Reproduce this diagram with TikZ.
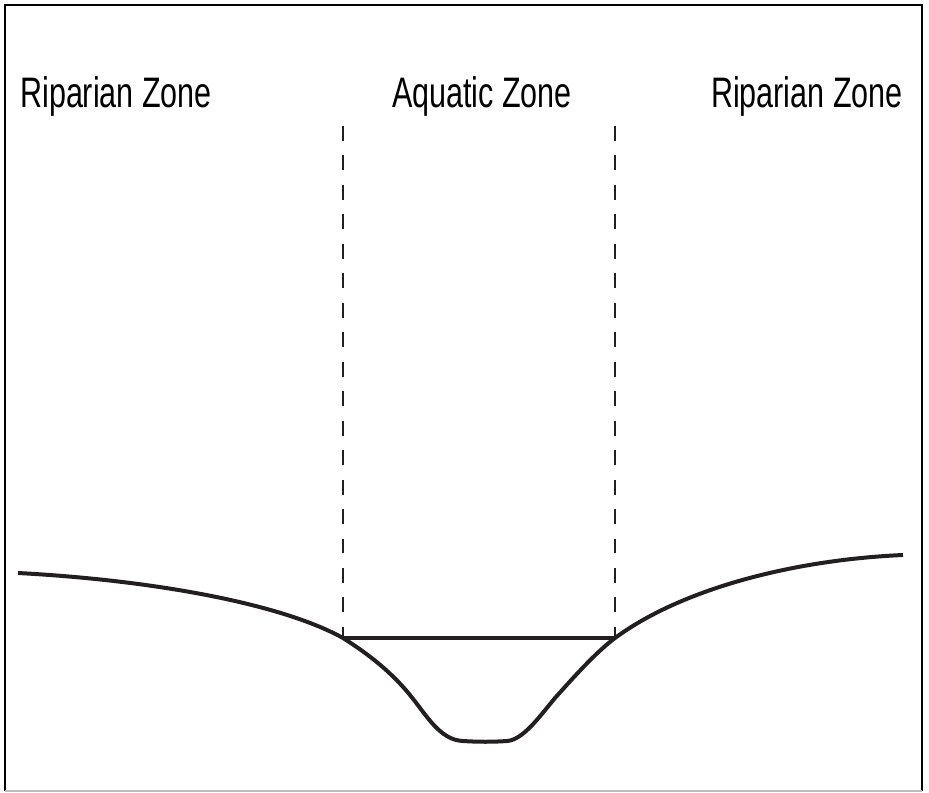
\documentclass[tikz,border=0pt]{standalone}
\usepackage{fontspec}
\setmainfont{Liberation Sans}
\newfontfamily\zonefont{Liberation Sans}[FakeStretch=0.715]
\usetikzlibrary{positioning, calc}
\definecolor{inkK}{HTML}{231F20}
\definecolor{frameGray}{HTML}{BDBDBD}
\tikzset{
  zonelabel/.style={font=\zonefont\fontsize{32}{34}\selectfont, inner sep=0pt},
  zoneline/.style={inkK, line width=1.7pt, dash pattern=on 11.2pt off 10.9pt},
  ground/.style={inkK, line width=3pt, line join=round},
  waterline/.style={inkK, line width=2.7pt},
  frameline/.style={black, line width=2.2pt},
}

\begin{document}
\begin{tikzpicture}[x=0.75pt, y=-0.75pt]
  \useasboundingbox (0,0) rectangle (929,793);
  % frame
  \draw[frameline] (5,791) -- (5,5) -- (922,5) -- (922,791);
  \draw[frameGray, line width=0.8pt] (5,791) -- (922,791);

  % zone labels
  \node[zonelabel, anchor=base west] (ripleft) at (20,107) {Riparian Zone};
  \node[zonelabel, anchor=base] (aquatic) at (482,107) {Aquatic Zone};
  \node[zonelabel, anchor=base east] (ripright) at (903,107) {Riparian Zone};

  % bank points
  \coordinate (lbank) at (343,638);
  \coordinate (rbank) at (615,638);
  \coordinate (ltop) at (343,126);
  \coordinate (rtop) at (615,126);
  \coordinate (bedl) at (463,741);
  \coordinate (bedr) at (507,741);

  % zone boundaries
  \draw[zoneline] (ltop) -- (lbank);
  \draw[zoneline] (rtop) -- (rbank);
  \draw[waterline] (lbank) -- (rbank);

  % ground profile
  \draw[ground] (18,573) .. controls (150,580) and (280,603) .. (lbank)
    .. controls (370,655) and (392,673) .. (410,695)
    .. controls (427,716) and (440,740) .. (bedl)
    .. controls (478,742) and (493,742) .. (bedr)
    .. controls (523,740) and (540,716) .. (555,698)
    .. controls (573,678) and (595,653) .. (rbank)
    .. controls (680,590) and (790,560) .. (903,555);
\end{tikzpicture}
\end{document}
